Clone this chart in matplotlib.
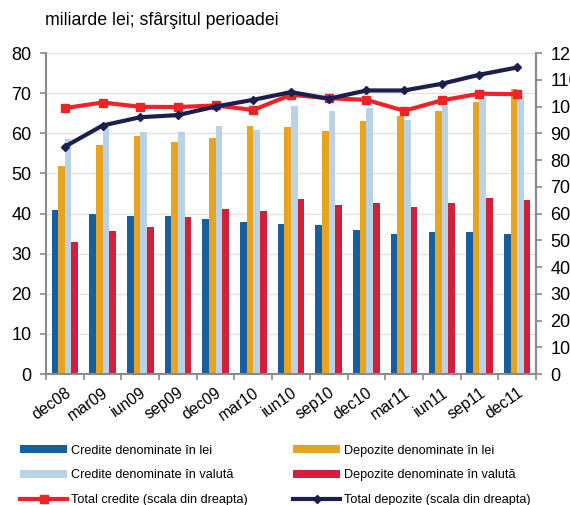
import numpy as np
import matplotlib.pyplot as plt

plt.rcParams['font.family'] = ['Liberation Sans', 'DejaVu Sans']

periods = ["dec08", "mar09", "iun09", "sep09", "dec09", "mar10", "iun10",
           "sep10", "dec10", "mar11", "iun11", "sep11", "dec11"]

credite_lei = [40.8, 40.0, 39.5, 39.3, 38.7, 37.8, 37.5, 37.2, 35.8, 34.9, 35.3, 35.4, 34.9]
depozite_lei = [51.8, 57.0, 59.3, 57.7, 58.8, 61.7, 61.5, 60.6, 63.1, 64.3, 65.6, 67.8, 71.0]
credite_valuta = [58.5, 61.7, 60.3, 60.3, 61.7, 60.8, 66.9, 65.6, 66.4, 63.2, 66.7, 68.9, 69.4]
depozite_valuta = [32.9, 35.7, 36.6, 39.1, 41.1, 40.6, 43.5, 42.2, 42.7, 41.5, 42.5, 43.8, 43.3]

# scala din dreapta
total_credite = [99.4, 101.5, 99.9, 99.8, 100.4, 98.7, 104.4, 103.1, 102.5, 98.4, 102.3, 104.8, 104.6]
total_depozite = [85.0, 92.9, 96.0, 96.8, 100.0, 102.5, 105.4, 102.9, 106.0, 106.0, 108.5, 111.9, 114.6]

c_blue = "#1660A0"
c_orange = "#E8A321"
c_light = "#B9D3E6"
c_red = "#D21F3C"
c_line_red = "#EE2326"
c_navy = "#1B1E4F"
c_axis = "#8A8A8A"

fig = plt.figure(figsize=(5.7, 5.05), dpi=100)
ax = fig.add_axes([0.0807, 0.2594, 0.8597, 0.6356])

x = np.arange(len(periods))
w = 0.176
b1 = ax.bar(x - 1.5 * w, credite_lei, w, color=c_blue, zorder=2)
b2 = ax.bar(x - 0.5 * w, depozite_lei, w, color=c_orange, zorder=2)
b3 = ax.bar(x + 0.5 * w, credite_valuta, w, color=c_light, zorder=2)
b4 = ax.bar(x + 1.5 * w, depozite_valuta, w, color=c_red, zorder=2)

ax.set_xlim(-0.5, len(periods) - 0.5)
ax.set_ylim(0, 80)
ax.set_yticks(range(0, 81, 10))
ax.yaxis.grid(True, color="#E3E3E3", lw=1, zorder=0)
ax.set_axisbelow(True)

ax.set_xticks(np.arange(-0.5, len(periods), 1))
ax.set_xticklabels([])
ax.set_xticks(x, minor=True)
ax.set_xticklabels(periods, minor=True, rotation=35, ha="right",
                   rotation_mode="anchor", fontsize=11.5)
ax.tick_params(axis="x", which="major", length=4.5, color=c_axis, width=1.2)
ax.tick_params(axis="x", which="minor", length=0, pad=8)
ax.tick_params(axis="y", length=4.5, color=c_axis, width=1.2, labelsize=13, pad=6)

ax.spines["top"].set_visible(False)
for s in ["left", "right", "bottom"]:
    ax.spines[s].set_color(c_axis)
    ax.spines[s].set_linewidth(1.5)

ax2 = ax.twinx()
ax2.set_ylim(0, 120)
ax2.set_yticks(range(0, 121, 10))
ax2.tick_params(axis="y", length=4.5, color=c_axis, width=1.2, labelsize=13, pad=6)
ax2.spines["top"].set_visible(False)
ax2.spines["left"].set_visible(False)
ax2.spines["bottom"].set_visible(False)
ax2.spines["right"].set_color(c_axis)
ax2.spines["right"].set_linewidth(1.5)

l1, = ax2.plot(x, total_credite, color=c_line_red, lw=3, marker="s", ms=5.5, zorder=3)
l2, = ax2.plot(x, total_depozite, color=c_navy, lw=3, marker="D", ms=4.5, zorder=4)

fig.text(0.079, 0.96, "miliarde lei; sfârşitul perioadei", fontsize=12.8, va="center")

handles = [b1, b3, l1, b2, b4, l2]
labels = ["Credite denominate în lei", "Credite denominate în valută",
          "Total credite (scala din dreapta)", "Depozite denominate în lei",
          "Depozite denominate în valută", "Total depozite (scala din dreapta)"]
fig.legend(handles, labels, ncol=2, loc="lower left", bbox_to_anchor=(0.027, -0.012),
           frameon=False, fontsize=9.1, handlelength=3.7, handleheight=0.55,
           handletextpad=0.3, columnspacing=3.6, labelspacing=1.0,
           borderaxespad=0)

fig.savefig("out.png", dpi=100)
